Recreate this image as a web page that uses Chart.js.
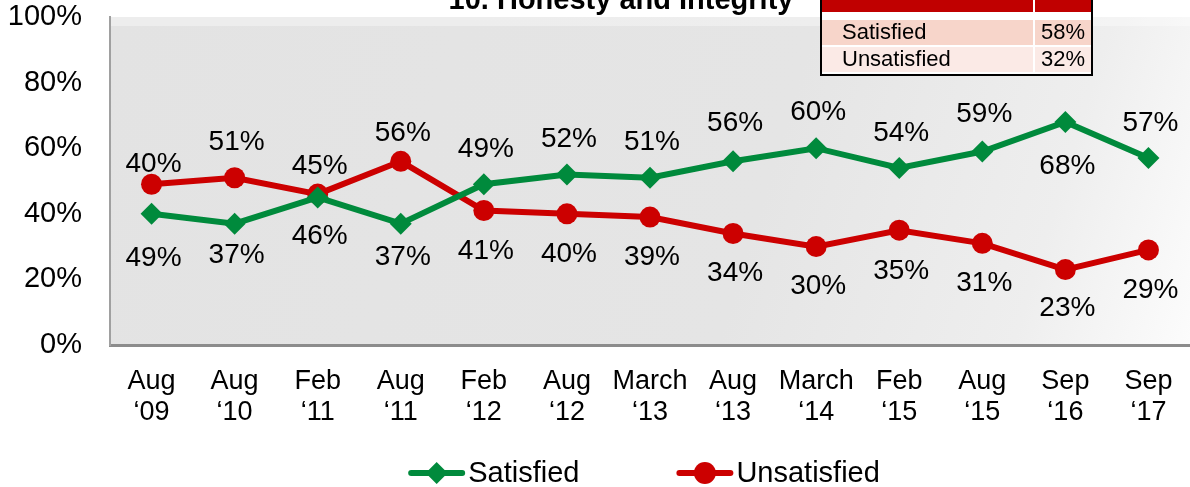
<!DOCTYPE html>
<html>
<head>
<meta charset="utf-8">
<title>10. Honesty and Integrity</title>
<script src="https://cdn.jsdelivr.net/npm/chart.js@4"></script>
<style>
  body { margin: 0; background: #ffffff; }
  #wrap { width: 1190px; height: 487px; }
</style>
</head>
<body>
<div id="wrap"><canvas id="trendChart" width="1190" height="487"></canvas></div>
<script>
// ========================
// Data
// ========================
const periods = [
    ['Aug', '\u201809'], ['Aug', '\u201810'], ['Feb', '\u201811'], ['Aug', '\u201811'],
    ['Feb', '\u201812'], ['Aug', '\u201812'], ['March', '\u201813'], ['Aug', '\u201813'],
    ['March', '\u201814'], ['Feb', '\u201815'], ['Aug', '\u201815'], ['Sep', '\u201816'],
    ['Sep', '\u201817']
];
const satisfied   = [40, 37, 45, 37, 49, 52, 51, 56, 60, 54, 59, 68, 57];
const unsatisfied = [49, 51, 46, 56, 41, 40, 39, 34, 30, 35, 31, 23, 29];

// label texts as printed on the chart
const satisfiedLabels   = ['49%', '37%', '45%', '37%', '49%', '52%', '51%', '56%', '60%', '54%', '59%', '68%', '57%'];
const unsatisfiedLabels = ['40%', '51%', '46%', '56%', '41%', '40%', '39%', '34%', '30%', '35%', '31%', '23%', '29%'];

const yTicks = [0, 20, 40, 60, 80, 100];

const summaryNames  = ['Satisfied', 'Unsatisfied'];
const summaryValues = [58, 32];

const chartTitle = '10. Honesty and Integrity';

// label placement (px from the marker, negative = above)
const satisfiedOffsets   = [44, 32, -31, 34, -35, -35, -35, -38, -36, -35, -37, 44, -35];
const unsatisfiedOffsets = [-20, -35, 42, -28, 41, 40, 40, 40, 40, 41, 40, 39, 40];

const GREEN = '#008a3c';
const RED = '#cc0000';
const FONT = "'Liberation Sans', Arial, sans-serif";

let trendChart = null;

document.addEventListener('DOMContentLoaded', () => {
    initTrendChart();
});

// ========================
// Plot background
// ========================
const plotBackground = {
    id: 'plotBackground',
    beforeDraw(chart) {
        const { ctx, chartArea: a } = chart;
        ctx.save();
        const g = ctx.createLinearGradient(a.left, a.top, a.right, a.bottom);
        g.addColorStop(0, '#e3e3e3');
        g.addColorStop(0.6, '#e5e5e5');
        g.addColorStop(0.85, '#eeeeee');
        g.addColorStop(1, '#fcfcfc');
        ctx.fillStyle = g;
        ctx.fillRect(a.left, a.top, a.right - a.left, a.bottom - a.top);
        // lighter band along the top edge
        ctx.fillStyle = 'rgba(255,255,255,0.35)';
        ctx.fillRect(a.left, a.top, a.right - a.left, 9);
        ctx.restore();
    }
};

// ========================
// Data labels
// ========================
const pointLabels = {
    id: 'pointLabels',
    afterDatasetsDraw(chart) {
        const { ctx } = chart;
        const texts = [satisfiedLabels, unsatisfiedLabels];
        const offsets = [satisfiedOffsets, unsatisfiedOffsets];
        ctx.save();
        ctx.font = `28px ${FONT}`;
        ctx.fillStyle = '#000';
        ctx.textAlign = 'center';
        ctx.textBaseline = 'middle';
        chart.data.datasets.forEach((ds, di) => {
            chart.getDatasetMeta(di).data.forEach((pt, i) => {
                ctx.fillText(texts[di][i], pt.x + 2, pt.y + offsets[di][i]);
            });
        });
        ctx.restore();
    }
};

// ========================
// Title, summary table, legend
// ========================
function drawMarker(ctx, style, x, y, color) {
    ctx.fillStyle = color;
    ctx.beginPath();
    if (style === 'circle') {
        ctx.arc(x, y, 11, 0, Math.PI * 2);
    } else {
        ctx.moveTo(x - 11, y);
        ctx.lineTo(x, y - 11);
        ctx.lineTo(x + 11, y);
        ctx.lineTo(x, y + 11);
        ctx.closePath();
    }
    ctx.fill();
}

const decorations = {
    id: 'decorations',
    afterDraw(chart) {
        const { ctx, chartArea: a } = chart;
        ctx.save();

        // title (cut off by the top edge)
        ctx.font = `bold 29px ${FONT}`;
        ctx.fillStyle = '#000';
        ctx.textAlign = 'center';
        ctx.textBaseline = 'alphabetic';
        ctx.fillText(chartTitle, 621, 9);

        // summary table
        const tx = 821, tw = 271, colX = 1033;
        ctx.fillStyle = '#ffffff';
        ctx.fillRect(tx, 0, tw, 76);
        ctx.fillStyle = '#c00000';
        ctx.fillRect(tx, 0, tw, 12);
        const rowTops = [20, 47];
        const rowFills = ['#f7d5ca', '#fbeae6'];
        ctx.font = `22px ${FONT}`;
        ctx.textBaseline = 'middle';
        summaryNames.forEach((name, i) => {
            ctx.fillStyle = rowFills[i];
            ctx.fillRect(tx, rowTops[i], tw, 25);
            ctx.fillStyle = '#ffffff';
            ctx.fillRect(colX, rowTops[i], 2, 25);
            ctx.fillStyle = '#000';
            ctx.textAlign = 'left';
            ctx.fillText(name, 842, rowTops[i] + 13);
            ctx.textAlign = 'right';
            ctx.fillText(summaryValues[i] + '%', 1085, rowTops[i] + 13);
        });
        ctx.fillStyle = '#ffffff';
        ctx.fillRect(colX, 0, 2, 12);
        ctx.strokeStyle = '#000';
        ctx.lineWidth = 2;
        ctx.strokeRect(tx, -2, tw, 77);

        // legend
        ctx.font = `29px ${FONT}`;
        ctx.textAlign = 'left';
        ctx.textBaseline = 'middle';
        const items = chart.data.datasets.map(ds => ({
            text: ds.label, color: ds.borderColor, style: ds.pointStyle
        }));
        const lineW = 57, gapText = 3, gapItems = 97;
        let total = 0;
        items.forEach((it, i) => {
            it.w = lineW + gapText + ctx.measureText(it.text).width;
            total += it.w + (i ? gapItems : 0);
        });
        let x = (a.left + a.right) / 2 - 6 - total / 2;
        const ly = 473;
        items.forEach(it => {
            ctx.strokeStyle = it.color;
            ctx.lineWidth = 6;
            ctx.lineCap = 'round';
            ctx.beginPath();
            ctx.moveTo(x + 3, ly);
            ctx.lineTo(x + lineW - 3, ly);
            ctx.stroke();
            drawMarker(ctx, it.style, x + lineW / 2, ly, it.color);
            ctx.fillStyle = '#000';
            ctx.fillText(it.text, x + lineW + gapText, ly + 1);
            x += it.w + gapItems;
        });

        ctx.restore();
    }
};

// ========================
// Chart
// ========================
function initTrendChart() {
    const ctx = document.getElementById('trendChart').getContext('2d');
    if (trendChart) trendChart.destroy();

    trendChart = new Chart(ctx, {
        type: 'line',
        data: {
            labels: periods,
            datasets: [{
                label: 'Satisfied',
                data: satisfied,
                borderColor: GREEN,
                backgroundColor: GREEN,
                borderWidth: 6,
                pointStyle: 'rectRot',
                pointRadius: 11,
                pointBorderWidth: 0,
                tension: 0
            }, {
                label: 'Unsatisfied',
                data: unsatisfied,
                borderColor: RED,
                backgroundColor: RED,
                borderWidth: 6,
                pointStyle: 'circle',
                pointRadius: 10.5,
                pointBorderWidth: 0,
                tension: 0
            }]
        },
        options: {
            responsive: false,
            animation: false,
            layout: { autoPadding: false, padding: { top: 17, right: 0, left: 0, bottom: 0 } },
            plugins: {
                legend: { display: false },
                title: { display: false },
                tooltip: { enabled: false }
            },
            scales: {
                x: {
                    offset: true,
                    grid: { display: false, drawTicks: false },
                    border: { display: true, color: '#8c8c8c', width: 3 },
                    ticks: {
                        color: '#000',
                        font: { family: FONT, size: 27, lineHeight: 1.15 },
                        padding: 21,
                        maxRotation: 0,
                        autoSkip: false
                    },
                    afterFit: scale => {
                        scale.height = 142;
                        scale.paddingLeft = 0;
                        scale.paddingRight = 0;
                    }
                },
                y: {
                    min: 0,
                    max: 100,
                    afterBuildTicks: scale => {
                        scale.ticks = yTicks.map(v => ({ value: v }));
                    },
                    grid: { display: false, drawTicks: false },
                    border: { display: true, color: '#a0a0a0', width: 2 },
                    ticks: {
                        color: '#000',
                        font: { family: FONT, size: 29 },
                        padding: 28,
                        callback: v => v + '%'
                    },
                    afterFit: scale => {
                        scale.width = 110;
                        scale.paddingTop = 0;
                        scale.paddingBottom = 0;
                    }
                }
            }
        },
        plugins: [plotBackground, pointLabels, decorations]
    });
}
</script>
</body>
</html>
